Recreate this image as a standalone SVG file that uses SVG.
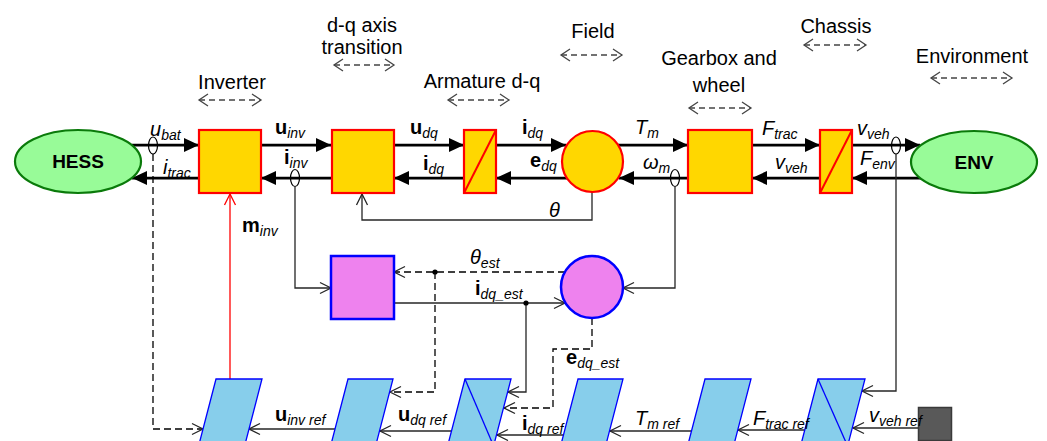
<svg xmlns="http://www.w3.org/2000/svg" width="1047" height="441" viewBox="0 0 1047 441">
<style>
text{font-family:"Liberation Sans",Arial,sans-serif;fill:#000}
.hd{font-size:20px;text-anchor:middle}
.sig{font-size:20px}
.it{font-style:italic}
.bd{font-weight:bold;font-style:normal}
.sub{font-size:14px;font-style:italic}
.main{stroke:#000;stroke-width:2.75;fill:none}
.thin{stroke:#262626;stroke-width:1.3;fill:none}
.dash{stroke:#000;stroke-width:1.3;fill:none;stroke-dasharray:7 4}
.hdr{stroke:#444;stroke-width:1.3;fill:none;stroke-dasharray:6 4}
.yb{fill:#FFD700;stroke:#FF0000;stroke-width:2.2}
.pk{fill:#EE82EE;stroke:#0000FF;stroke-width:2.5}
.pl{fill:#87CEEB;stroke:#0000FF;stroke-width:1.3}
.ov{fill:none;stroke:#000;stroke-width:1.2}
.el{fill:#98FB98;stroke:#0A7A0A;stroke-width:2.2}
.nl{font-size:19px;font-weight:bold;text-anchor:middle}
</style>
<defs>
<marker id="fa" markerUnits="userSpaceOnUse" markerWidth="16" markerHeight="15" refX="15" refY="7" orient="auto" overflow="visible">
<path d="M0,0 L15,7 L0,14 z" fill="#000"/>
</marker>
<marker id="oa" markerUnits="userSpaceOnUse" markerWidth="12" markerHeight="12" refX="11" refY="6" orient="auto" overflow="visible">
<path d="M0,0.5 L11,6 L0,11.5" fill="none" stroke="#262626" stroke-width="1.3"/>
</marker>
<marker id="ra" markerUnits="userSpaceOnUse" markerWidth="12" markerHeight="12" refX="6" refY="1" orient="0" overflow="visible">
<path d="M0.5,12 L6,1 L11.5,12" fill="none" stroke="#FF0000" stroke-width="1.3"/>
</marker>
<marker id="ga" markerUnits="userSpaceOnUse" markerWidth="10" markerHeight="12" refX="9" refY="6" orient="auto-start-reverse" overflow="visible">
<path d="M0,0 L9,6 L0,12" fill="none" stroke="#444" stroke-width="1.3"/>
</marker>
</defs>

<g id="headers">
<text class="hd" x="362" y="32">d-q axis</text>
<text class="hd" x="362" y="54">transition</text>
<line class="hdr" x1="334" y1="65" x2="394" y2="65" marker-start="url(#ga)" marker-end="url(#ga)"/>
<text class="hd" x="232" y="89">Inverter</text>
<line class="hdr" x1="199" y1="100" x2="261" y2="100" marker-start="url(#ga)" marker-end="url(#ga)"/>
<text class="hd" x="482" y="88">Armature d-q</text>
<line class="hdr" x1="448" y1="100" x2="509" y2="100" marker-start="url(#ga)" marker-end="url(#ga)"/>
<text class="hd" x="593" y="38">Field</text>
<line class="hdr" x1="561" y1="55" x2="622" y2="55" marker-start="url(#ga)" marker-end="url(#ga)"/>
<text class="hd" x="719" y="65">Gearbox and</text>
<text class="hd" x="719" y="92">wheel</text>
<line class="hdr" x1="689" y1="108" x2="751" y2="108" marker-start="url(#ga)" marker-end="url(#ga)"/>
<text class="hd" x="836" y="33">Chassis</text>
<line class="hdr" x1="804" y1="45" x2="866" y2="45" marker-start="url(#ga)" marker-end="url(#ga)"/>
<text class="hd" x="972" y="63">Environment</text>
<line class="hdr" x1="931" y1="78" x2="1012" y2="78" marker-start="url(#ga)" marker-end="url(#ga)"/>
</g>

<g id="connectors">
<line class="main" x1="132" y1="145" x2="199" y2="145" marker-end="url(#fa)"/>
<line class="main" x1="261" y1="145" x2="331" y2="145" marker-end="url(#fa)"/>
<line class="main" x1="394" y1="145" x2="464" y2="145" marker-end="url(#fa)"/>
<line class="main" x1="496" y1="145" x2="566" y2="145" marker-end="url(#fa)"/>
<line class="main" x1="618" y1="145" x2="688" y2="145" marker-end="url(#fa)"/>
<line class="main" x1="752" y1="145" x2="820" y2="145" marker-end="url(#fa)"/>
<line class="main" x1="852" y1="145" x2="920" y2="145" marker-end="url(#fa)"/>
<line class="main" x1="921" y1="178" x2="852" y2="178" marker-end="url(#fa)"/>
<line class="main" x1="820" y1="178" x2="752" y2="178" marker-end="url(#fa)"/>
<line class="main" x1="688" y1="178" x2="619" y2="178" marker-end="url(#fa)"/>
<line class="main" x1="567" y1="178" x2="496" y2="178" marker-end="url(#fa)"/>
<line class="main" x1="464" y1="178" x2="394" y2="178" marker-end="url(#fa)"/>
<line class="main" x1="331" y1="178" x2="261" y2="178" marker-end="url(#fa)"/>
<line class="main" x1="199" y1="178" x2="132" y2="178" marker-end="url(#fa)"/>
<ellipse class="ov" cx="153" cy="145.5" rx="4.5" ry="8.5"/>
<ellipse class="ov" cx="295" cy="178" rx="4.5" ry="8.5"/>
<ellipse class="ov" cx="675" cy="178" rx="4.5" ry="8.5"/>
<ellipse class="ov" cx="896" cy="145.5" rx="4.5" ry="8.5"/>
<polyline class="thin" points="592,192 592,220 362,220 362,194" marker-end="url(#oa)"/>
<line x1="230" y1="379" x2="230" y2="194" stroke="#FF0000" stroke-width="1.3" marker-end="url(#ra)"/>
<polyline class="dash" points="153,154 153,429 203,429" marker-end="url(#oa)"/>
<polyline class="thin" points="295,187 295,288 331,288" marker-end="url(#oa)"/>
<polyline class="thin" points="675,187 675,288 623,288" marker-end="url(#oa)"/>
<polyline class="thin" points="896,154 896,391 862,391" marker-end="url(#oa)"/>
<line class="dash" x1="565" y1="272" x2="394" y2="272" marker-end="url(#oa)"/>
<polyline class="dash" points="435,272 435,392 390,392" marker-end="url(#oa)"/>
<circle cx="435" cy="272" r="2.6" fill="#000"/>
<line class="thin" x1="394" y1="303" x2="565" y2="303" marker-end="url(#oa)"/>
<polyline class="thin" points="526,303 526,392 508,392" marker-end="url(#oa)"/>
<circle cx="526" cy="303" r="2.6" fill="#000"/>
<polyline class="dash" points="592,318 592,349 553,349 553,408 504,408" marker-end="url(#oa)"/>
<line class="thin" x1="918" y1="428" x2="853" y2="428" marker-end="url(#oa)"/>
<line class="thin" x1="805" y1="430" x2="738" y2="430" marker-end="url(#oa)"/>
<line class="thin" x1="692" y1="431" x2="610" y2="431" marker-end="url(#oa)"/>
<line class="thin" x1="564" y1="435" x2="497" y2="435" marker-end="url(#oa)"/>
<line class="thin" x1="452" y1="431" x2="380" y2="431" marker-end="url(#oa)"/>
<line class="thin" x1="335" y1="429" x2="249" y2="429" marker-end="url(#oa)"/>
</g>

<g id="HESS"><ellipse class="el" cx="78" cy="161.5" rx="63" ry="31.5"/><text class="nl" x="78" y="168">HESS</text></g>
<g id="inverter"><rect class="yb" x="199" y="130" width="62" height="63"/></g>
<g id="dq_transition"><rect class="yb" x="332" y="130" width="62" height="63"/></g>
<g id="armature"><rect class="yb" x="464" y="130" width="32" height="63"/><line x1="464" y1="193" x2="496" y2="130" stroke="#FF0000" stroke-width="2"/></g>
<g id="field"><circle cx="592.5" cy="161.5" r="30.5" fill="#FFD700" stroke="#FF0000" stroke-width="2.2"/></g>
<g id="gearbox"><rect class="yb" x="688" y="130" width="64" height="63"/></g>
<g id="chassis"><rect class="yb" x="820" y="130" width="32" height="63"/><line x1="820" y1="193" x2="852" y2="130" stroke="#FF0000" stroke-width="2"/></g>
<g id="ENV"><ellipse class="el" cx="974" cy="162" rx="63" ry="31"/><text class="nl" x="974" y="169">ENV</text></g>

<g id="est_box"><rect class="pk" x="331" y="256" width="63" height="63"/></g>
<g id="est_circle"><circle class="pk" cx="592" cy="287" r="31"/></g>

<g id="ref_inverter"><polygon class="pl" points="216,379 262,379 244.6,446 198.6,446"/></g>
<g id="ref_dq"><polygon class="pl" points="348,379 393,379 375.6,446 330.6,446"/></g>
<g id="ref_armature"><polygon class="pl" points="465,379 511,379 493.6,446 447.6,446"/><line x1="465" y1="379" x2="493.6" y2="446" stroke="#0000FF" stroke-width="1.3"/></g>
<g id="ref_field"><polygon class="pl" points="578,379 623,379 605.6,446 560.6,446"/></g>
<g id="ref_gearbox"><polygon class="pl" points="705,379 751,379 733.6,446 687.6,446"/></g>
<g id="ref_chassis"><polygon class="pl" points="818,379 865,379 847.6,446 800.6,446"/><line x1="818" y1="379" x2="847.6" y2="446" stroke="#0000FF" stroke-width="1.3"/></g>
<g id="ref_source"><rect x="918.5" y="407.5" width="33" height="33" fill="#595959" stroke="#3a3a3a" stroke-width="1.5"/></g>

<g id="labels">
<text class="sig" x="150" y="136"><tspan class="it">u</tspan><tspan class="sub" dy="4">bat</tspan></text>
<text class="sig" x="163" y="174"><tspan class="it">i</tspan><tspan class="sub" dy="4">trac</tspan></text>
<text class="sig" x="275" y="134"><tspan class="bd">u</tspan><tspan class="sub" dy="4">inv</tspan></text>
<text class="sig" x="284" y="164"><tspan class="bd">i</tspan><tspan class="sub" dy="4">inv</tspan></text>
<text class="sig" x="410" y="134"><tspan class="bd">u</tspan><tspan class="sub" dy="4">dq</tspan></text>
<text class="sig" x="423" y="170"><tspan class="bd">i</tspan><tspan class="sub" dy="4">dq</tspan></text>
<text class="sig" x="522" y="134"><tspan class="bd">i</tspan><tspan class="sub" dy="4">dq</tspan></text>
<text class="sig" x="530" y="167"><tspan class="bd">e</tspan><tspan class="sub" dy="4">dq</tspan></text>
<text class="sig" x="635" y="134"><tspan class="it">T</tspan><tspan class="sub" dy="4">m</tspan></text>
<text class="sig" x="643" y="169"><tspan class="it">ω</tspan><tspan class="sub" dy="4">m</tspan></text>
<text class="sig" x="762" y="135"><tspan class="it">F</tspan><tspan class="sub" dy="4">trac</tspan></text>
<text class="sig" x="775" y="169"><tspan class="it">v</tspan><tspan class="sub" dy="4">veh</tspan></text>
<text class="sig" x="857" y="135"><tspan class="it">v</tspan><tspan class="sub" dy="4">veh</tspan></text>
<text class="sig" x="860" y="165"><tspan class="it">F</tspan><tspan class="sub" dy="4">env</tspan></text>
<text class="sig it" x="549" y="217">θ</text>
<text class="sig" x="242" y="232"><tspan class="bd">m</tspan><tspan class="sub" dy="4">inv</tspan></text>
<text class="sig" x="470" y="264"><tspan class="it">θ</tspan><tspan class="sub" dy="4">est</tspan></text>
<text class="sig" x="475" y="295"><tspan class="bd">i</tspan><tspan class="sub" dy="4">dq_est</tspan></text>
<text class="sig" x="566" y="364"><tspan class="bd">e</tspan><tspan class="sub" dy="4">dq_est</tspan></text>
<text class="sig" x="275" y="421"><tspan class="bd">u</tspan><tspan class="sub" dy="4">inv ref</tspan></text>
<text class="sig" x="398" y="421"><tspan class="bd">u</tspan><tspan class="sub" dy="4">dq ref</tspan></text>
<text class="sig" x="522" y="430"><tspan class="bd">i</tspan><tspan class="sub" dy="4">dq ref</tspan></text>
<text class="sig" x="635" y="425"><tspan class="it">T</tspan><tspan class="sub" dy="4">m ref</tspan></text>
<text class="sig" x="753" y="425"><tspan class="it">F</tspan><tspan class="sub" dy="4">trac ref</tspan></text>
<text class="sig" x="869" y="422"><tspan class="it">v</tspan><tspan class="sub" dy="4">veh ref</tspan></text>
</g>
</svg>
